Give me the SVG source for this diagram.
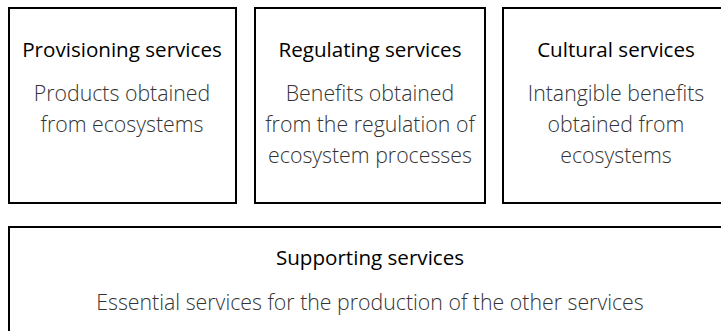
<svg xmlns="http://www.w3.org/2000/svg" width="721" height="331" viewBox="0 0 721 331">
<style>
.box{fill:#fff;stroke:#000;stroke-width:2}
.t{font-family:"Open Sans","Noto Sans",sans-serif;font-size:20.6px;fill:#000;text-anchor:middle}
.b{font-family:"Open Sans","Noto Sans",sans-serif;font-size:21.3px;font-weight:300;fill:#333;text-anchor:middle}
</style>
<rect width="721" height="331" fill="#fff"/>
<g id="provisioning">
<rect class="box" x="9" y="8" width="227" height="195"/>
<text class="t" x="122" y="57">Provisioning services</text>
<text class="b" x="122" y="101">Products obtained</text>
<text class="b" x="122" y="132">from ecosystems</text>
</g>
<g id="regulating">
<rect class="box" x="255" y="8" width="230" height="195"/>
<text class="t" x="370" y="57">Regulating services</text>
<text class="b" x="370" y="101">Benefits obtained</text>
<text class="b" x="370" y="132">from the regulation of</text>
<text class="b" x="370" y="163">ecosystem processes</text>
</g>
<g id="cultural">
<rect class="box" x="503" y="8" width="226" height="195"/>
<text class="t" x="616" y="57">Cultural services</text>
<text class="b" x="616" y="101">Intangible benefits</text>
<text class="b" x="616" y="132">obtained from</text>
<text class="b" x="616" y="163">ecosystems</text>
</g>
<g id="supporting">
<rect class="box" x="9" y="227" width="722" height="120"/>
<text class="t" x="370" y="265">Supporting services</text>
<text class="b" x="370" y="310">Essential services for the production of the other services</text>
</g>
<g id="connectors"/>
</svg>
